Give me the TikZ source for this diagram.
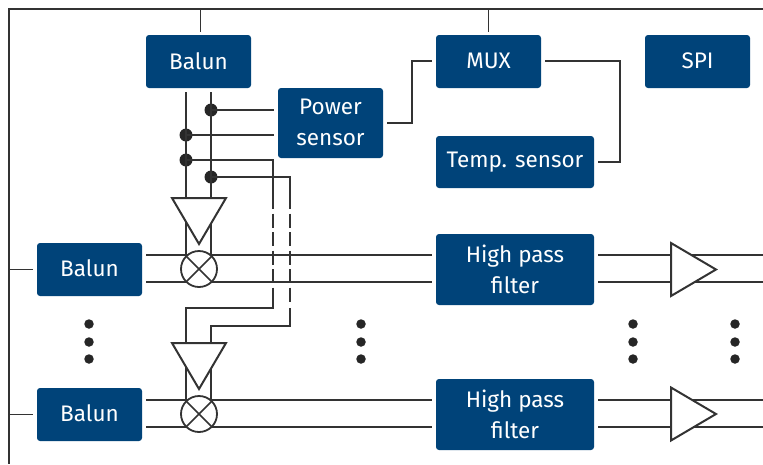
\documentclass[tikz,border=0pt]{standalone}
\usepackage{fontspec}
\setmainfont{Fira Sans}
\usetikzlibrary{calc}
\definecolor{boxblue}{HTML}{004379}
\definecolor{ln}{HTML}{333333}
\tikzset{
 x=1pt,y=-1pt,
 box/.style={fill=boxblue,rounded corners=3pt,text=white,align=center,inner sep=0pt,outer sep=0pt,font=\fontsize{22.5}{31}\selectfont},
 wire/.style={draw=ln,line width=1.5pt},
 symb/.style={draw=ln,line width=2pt,fill=white,line join=miter},
 junction/.style={circle,fill=black!85,inner sep=0pt,minimum size=13pt},
 ell/.style={circle,fill=black!85,inner sep=0pt,minimum size=9.5pt},
 mixer/.style={circle,draw=ln,line width=1.8pt,fill=white,minimum size=36pt,inner sep=0pt},
}
\newcommand{\bx}[6]{\node[box,minimum width=#4 pt,minimum height=#5 pt] (#1) at (#2,#3) {#6};}
\newcommand{\ampR}[2]{% name, y centre
 \path[symb] (671,#2-26.5) -- (716,#2) -- (671,#2+26.5) -- cycle;
 \coordinate (#1) at (671,#2);}
\newcommand{\ampD}[3]{% name, top y, apex y
 \path[symb] (172,#2) -- (226,#2) -- (199,#3) -- cycle;
 \coordinate (#1) at (199,#2);}
\begin{document}
\begin{tikzpicture}
\useasboundingbox (0,0) rectangle (763,464);
\coordinate (fTL) at (9,9);
\coordinate (fTR) at (763,9);
\coordinate (fBL) at (9,464);
\draw[wire] (fTR) -- (fTL) -- (fBL);
% boxes
\bx{balunT}{198.5}{61.5}{105}{53}{\raisebox{1pt}{Balun}}
\bx{power}{330.5}{123}{105}{70}{\raisebox{2pt}{Power}\\\raisebox{2pt}{sensor}}
\bx{mux}{488.5}{61.5}{105}{53}{\raisebox{1pt}{MUX}}
\bx{spi}{697.5}{61.5}{105}{53}{\raisebox{1pt}{SPI}}
\bx{temp}{515}{162}{158}{52}{Temp. sensor}
\bx{hp1}{515}{269.5}{158}{71}{High pass\\filter}
\bx{hp2}{515}{414.5}{158}{71}{High pass\\filter}
\bx{bal1}{89.5}{269.5}{105}{53}{\raisebox{2pt}{Balun}}
\bx{bal2}{89.5}{414.5}{105}{53}{\raisebox{2pt}{Balun}}
% top and left stubs
\coordinate (stubT) at (200.5,32);
\draw[wire] (fTL -| stubT) -- (stubT);
\draw[wire] (fTL -| mux.north) -- ($(mux.north)+(0,-3)$);
\draw[wire] (fBL |- bal1.west) -- ($(bal1.west)+(-4,0)$);
\draw[wire] (fBL |- bal2.west) -- ($(bal2.west)+(-4,0)$);
% signal lines
\foreach \y in {255,282,400,427}{
 \draw[wire] (146,\y) -- (432,\y);
 \draw[wire] (598,\y) -- (763,\y);
}
% power sensor, mux, temp
\coordinate (pm1) at (412,123);
\coordinate (pm2) at (412,61);
\draw[wire] ($(power.east)+(4,0)$) -- (pm1) -- (pm2) -- ($(mux.west |- pm2)+(-4,0)$);
\coordinate (mt1) at (620,61);
\coordinate (mt2) at (620,162);
\draw[wire] ($(mux.east |- mt1)+(4,0)$) -- (mt1) -- (mt2) -- ($(temp.east)+(4,0)$);
% junctions
\node[junction] (j1) at (211,110) {};
\node[junction] (j2) at (186,135) {};
\node[junction] (j3) at (186,160) {};
\node[junction] (j4) at (211,177) {};
% dashed paths
\coordinate (d1a) at (273,160);
\coordinate (d1b) at (273,195);
\coordinate (d1c) at (273,290);
\coordinate (d1d) at (273,308);
\coordinate (d1e) at (186,308);
\coordinate (d2a) at (290,177);
\coordinate (d2b) at (290,195);
\coordinate (d2c) at (290,302);
\coordinate (d2f) at (290,308);
\coordinate (d2d) at (290,326);
\coordinate (d2e) at (211,326);
\draw[wire] (j3.center) -- (d1a) -- (d1b);
\draw[wire,dash pattern=on 14pt off 4.5pt] (d1b) -- (d1c);
\draw[wire] (d1c) -- (d1d) -- (d1e) -- (186,343);
\draw[wire] (j4.center) -- (d2a) -- (d2b);
\draw[wire,dash pattern=on 14pt off 4.5pt] (d2b) -- (d2c);
\draw[wire] (d2f) -- (d2d) -- (d2e) -- (211,343);
% verticals
\draw[wire] (186,92) -- (186,269);
\draw[wire] (211,92) -- (211,269);
\draw[wire] (186,343) -- (186,414);
\draw[wire] (211,343) -- (211,414);
% junction branches to power sensor
\draw[wire] (j1.center) -- (274,110);
\draw[wire] (j2.center) -- (274,135);
% amplifiers and mixers
\ampD{a1}{198}{244}
\ampD{a2}{343}{389}
\node[mixer] (m1) at (199,269) {};
\node[mixer] (m2) at (199,414) {};
\draw[wire] (m1.45) -- (m1.225) (m1.135) -- (m1.315);
\draw[wire] (m2.45) -- (m2.225) (m2.135) -- (m2.315);
\ampR{r1}{269.5}
\ampR{r2}{414}
% ellipsis
\foreach \x in {89,361,633,735}{
 \foreach \y in {324,342,359}{
  \node[ell] at (\x,\y) {};
 }
}
\end{tikzpicture}
\end{document}
